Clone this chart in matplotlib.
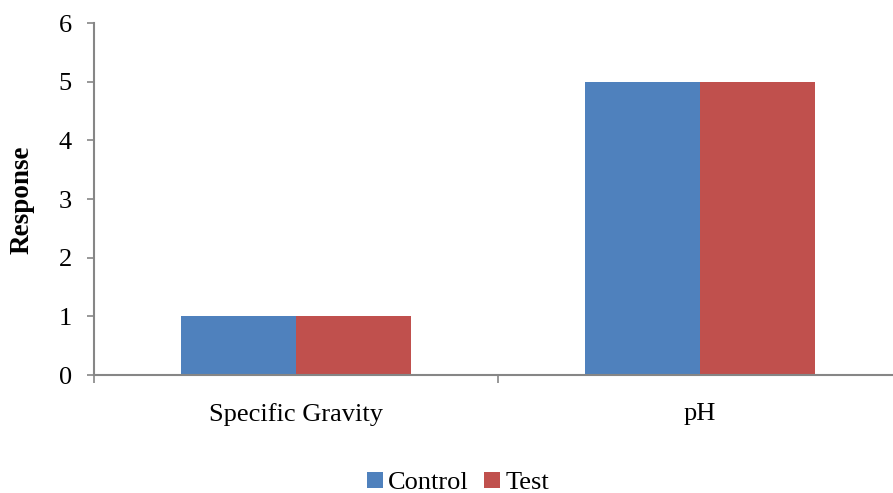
import matplotlib
matplotlib.use("Agg")
import matplotlib.pyplot as plt
import numpy as np

categories = ["Specific Gravity", "pH"]
control = [1, 5]
test = [1, 5]
series_names = ["Control", "Test"]
colors = ["#4F81BD", "#C0504D"]

plt.rcParams['font.family'] = ['Liberation Serif', 'DejaVu Serif']

W, H = 893, 493
fig = plt.figure(figsize=(W/100, H/100), dpi=100)
ax = fig.add_axes([94/W, (H-375)/H, (893-94)/W, (375-23)/H])

x = np.arange(len(categories))
bw = 0.285
ax.bar(x - bw/2, control, bw, color=colors[0], label=series_names[0])
ax.bar(x + bw/2, test, bw, color=colors[1], label=series_names[1])

ax.set_xlim(-0.5, 1.5 - 9/404)
ax.set_ylim(0, 6)
ax.set_yticks(range(7))
ax.set_xticks([-0.5, 0.5])
ax.set_xticklabels([])
ax.set_xticks(x, minor=True)
ax.set_xticklabels(categories, minor=True)
ax.tick_params(axis='x', which='minor', length=0, pad=20, labelsize=19)
ax.tick_params(axis='x', which='major', length=6, width=1.2, color='#868686', direction='out')
ax.tick_params(axis='y', length=5, width=1.2, color='#868686', direction='out', labelsize=19, pad=11)

for s in ['top', 'right']:
    ax.spines[s].set_visible(False)
for s in ['left', 'bottom']:
    ax.spines[s].set_color('#868686')
    ax.spines[s].set_linewidth(1.5)

fig.text(22/W, 1 - 200/H, "Response", rotation=90, ha='center', va='center',
         fontsize=19.5, fontweight='bold')

fig.legend(loc='center', bbox_to_anchor=(458/W, 1 - 483/H), ncol=2, frameon=False,
           fontsize=19, handlelength=0.6, handleheight=0.6, handletextpad=0.2,
           columnspacing=0.6)

fig.savefig("out.png", dpi=100)
